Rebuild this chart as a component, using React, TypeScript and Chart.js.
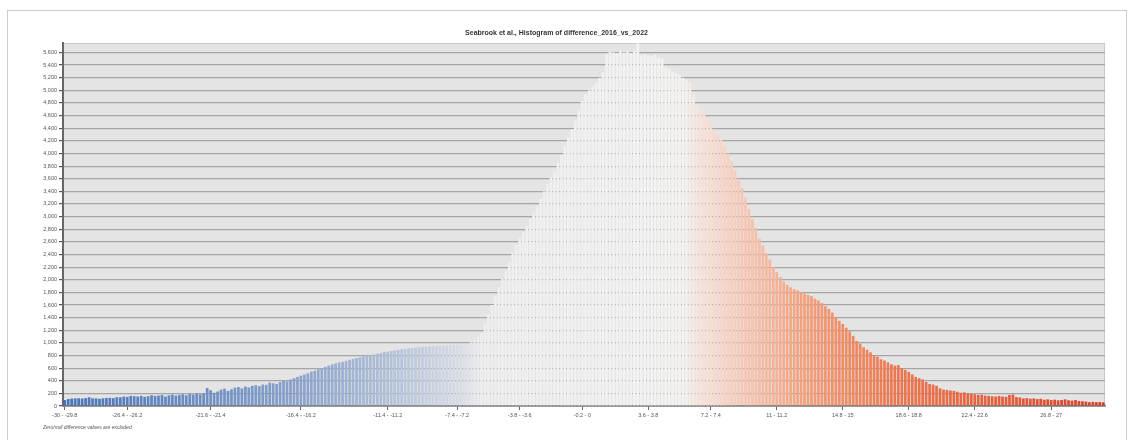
import React, { useEffect, useRef } from 'react';
import { Chart, registerables } from 'chart.js';

Chart.register(...registerables);

const TITLE = 'Seabrook et al., Histogram of difference_2016_vs_2022';
const NOTE = 'Zero/null difference values are excluded';

const BIN_START = -30;
const BIN_WIDTH = 0.2;

// counts per bin (bins -30 .. 30, width 0.2)
const COUNTS_FAR_NEG = [
  95, 110, 118, 120, 122, 118, 125, 138, 122, 120, 115, 122, 128, 130, 125, 140, 138, 150, 145, 160,
  155, 150, 160, 145, 155, 170, 160, 165, 175, 150, 170, 180, 165, 175, 185, 170, 190, 180, 195, 185,
  200, 285, 250, 210, 230, 260, 275, 240, 265, 290, 300, 280, 310, 295, 320, 330, 315, 340, 335, 370,
];
const COUNTS_NEAR_NEG = [
  360, 350, 380, 400, 390, 420, 440, 460, 480, 500, 520, 545, 560, 580, 600, 620, 640, 660, 675, 690,
  700, 715, 730, 745, 760, 770, 785, 795, 805, 815, 830, 840, 855, 860, 870, 880, 890, 900, 905, 915,
  920, 925, 930, 935, 940, 945, 950, 948, 955, 958, 960, 962, 965, 968, 970, 975, 985, 1010, 1050, 1100,
];
const COUNTS_PEAK = [
  1160, 1300, 1450, 1600, 1750, 1880, 2010, 2140, 2280, 2420, 2550, 2660, 2760, 2860, 2960, 3060, 3160, 3280, 3400, 3510,
  3620, 3720, 3850, 3980, 4120, 4250, 4380, 4520, 4680, 4830, 4940, 5000, 5060, 5110, 5200, 5290, 5580, 5610, 5600, 5590,
  5620, 5600, 5610, 5590, 5620, 5745, 5560, 5570, 5550, 5540, 5560, 5520, 5500, 5360, 5340, 5300, 5270, 5240, 5200, 5170,
];
const COUNTS_NEAR_POS = [
  5120, 4930, 4760, 4700, 4620, 4560, 4480, 4380, 4300, 4220, 4120, 4000, 3880, 3730, 3600, 3450, 3300, 3120, 2960, 2820,
  2650, 2540, 2420, 2320, 2200, 2120, 2040, 1970, 1920, 1880, 1850, 1830, 1800, 1780, 1760, 1740, 1700, 1670, 1630, 1580,
  1540, 1480, 1410, 1350, 1300, 1240, 1180, 1110, 1030, 990, 930, 890, 850, 800, 780, 740, 720, 690, 660, 640,
];
const COUNTS_FAR_POS = [
  650, 600, 570, 540, 500, 460, 440, 420, 380, 350, 340, 320, 280, 260, 255, 245, 240, 225, 210, 215,
  200, 190, 185, 175, 180, 165, 160, 155, 150, 160, 150, 145, 175, 180, 140, 135, 120, 125, 115, 120,
  110, 115, 100, 105, 95, 100, 90, 95, 105, 90, 85, 95, 80, 75, 70, 60, 65, 60, 62, 58,
];

const TICK_INDICES = [0, 18, 42, 68, 93, 113, 131, 149, 168, 186, 205, 224, 243, 262, 284];
const Y_MAX = 5750;
const Y_STEP = 200;

// diverging colour ramp stops: [bin index, rgb]
const COLOR_STOPS: [number, number[]][] = [
  [0, [70, 115, 185]],
  [10, [80, 122, 190]],
  [68, [138, 163, 203]],
  [96, [181, 195, 218]],
  [114, [215, 220, 230]],
  [120, [238, 238, 240]],
  [178, [244, 242, 241]],
  [184, [248, 224, 214]],
  [197, [247, 195, 174]],
  [212, [243, 162, 127]],
  [226, [239, 138, 99]],
  [240, [236, 119, 81]],
  [269, [229, 94, 58]],
  [299, [218, 60, 38]],
];

const COUNTS = [...COUNTS_FAR_NEG, ...COUNTS_NEAR_NEG, ...COUNTS_PEAK, ...COUNTS_NEAR_POS, ...COUNTS_FAR_POS];

function fmt(v: number) {
  return String(parseFloat(v.toFixed(4)));
}

const LABELS = COUNTS.map((_, i) => `${fmt(BIN_START + i * BIN_WIDTH)} - ${fmt(BIN_START + (i + 1) * BIN_WIDTH)}`);

function colorAt(i: number) {
  for (let k = 0; k < COLOR_STOPS.length - 1; k++) {
    const [a, ca] = COLOR_STOPS[k];
    const [b, cb] = COLOR_STOPS[k + 1];
    if (i >= a && i <= b) {
      const t = (i - a) / (b - a);
      const c = ca.map((v, j) => Math.round(v + (cb[j] - v) * t));
      return `rgb(${c[0]},${c[1]},${c[2]})`;
    }
  }
  const c = COLOR_STOPS[COLOR_STOPS.length - 1][1];
  return `rgb(${c[0]},${c[1]},${c[2]})`;
}

const FONT = 'Liberation Sans, Arial, sans-serif';

export default function App() {
  const ref = useRef<HTMLCanvasElement>(null);

  useEffect(() => {
    if (!ref.current) return;
    const bgPlugin = {
      id: 'plotBg',
      beforeDraw(chart: any) {
        const { ctx, chartArea: a } = chart;
        ctx.save();
        ctx.fillStyle = '#e4e4e4';
        ctx.fillRect(a.left, a.top, a.right - a.left, a.bottom - a.top);
        ctx.strokeStyle = '#c9c9c9';
        ctx.lineWidth = 1;
        ctx.strokeRect(a.left + 0.5, a.top + 0.5, a.right - a.left - 1, a.bottom - a.top);
        ctx.restore();
      },
      afterDraw(chart: any) {
        const { ctx } = chart;
        ctx.save();
        ctx.fillStyle = '#555';
        ctx.font = `italic 5px ${FONT}`;
        ctx.textBaseline = 'middle';
        ctx.fillText(NOTE, 35, 417);
        ctx.restore();
      },
    };

    const chart = new Chart(ref.current, {
      type: 'bar',
      data: {
        labels: LABELS,
        datasets: [
          {
            data: COUNTS,
            backgroundColor: COUNTS.map((_, i) => colorAt(i)),
            borderWidth: 0,
            categoryPercentage: 0.78,
            barPercentage: 1,
          },
        ],
      },
      options: {
        responsive: false,
        animation: false,
        layout: { padding: { left: 0, right: 21, top: 10, bottom: 13 } },
        plugins: {
          legend: { display: false },
          tooltip: { enabled: false },
          title: {
            display: true,
            text: TITLE,
            color: '#333',
            font: { family: FONT, size: 7, weight: 'bold' },
            padding: { top: 8, bottom: 5.6 },
          },
        },
        scales: {
          x: {
            grid: { drawOnChartArea: false, offset: false, tickLength: 4, color: '#666', lineWidth: 1 },
            border: { color: '#777', width: 1.5 },
            ticks: {
              autoSkip: false,
              maxRotation: 0,
              minRotation: 0,
              padding: 2,
              color: '#555',
              font: { family: FONT, size: 5.5 },
            },
            afterBuildTicks: (s: any) => {
              s.ticks = s.ticks.filter((t: any) => TICK_INDICES.includes(t.value));
            },
            afterFit: (s: any) => {
              s.height = 20;
            },
          },
          y: {
            min: 0,
            max: Y_MAX,
            z: 1,
            grid: { color: '#a5a5a5', lineWidth: 1.2, tickLength: 4, tickColor: '#555' },
            border: { color: '#666', width: 2 },
            ticks: {
              stepSize: Y_STEP,
              includeBounds: false,
              autoSkip: false,
              padding: 2,
              color: '#555',
              font: { family: FONT, size: 5.5 },
            },
            afterFit: (s: any) => {
              s.width = 55;
            },
          },
        },
      },
      plugins: [bgPlugin],
    } as any);
    return () => chart.destroy();
  }, []);

  return (
    <div
      style={{
        position: 'absolute',
        left: 7,
        top: 10,
        width: 1118,
        height: 440,
        border: '1px solid #ccc',
        background: '#fff',
      }}
    >
      <canvas ref={ref} width={1118} height={428} style={{ display: 'block' }} />
    </div>
  );
}
